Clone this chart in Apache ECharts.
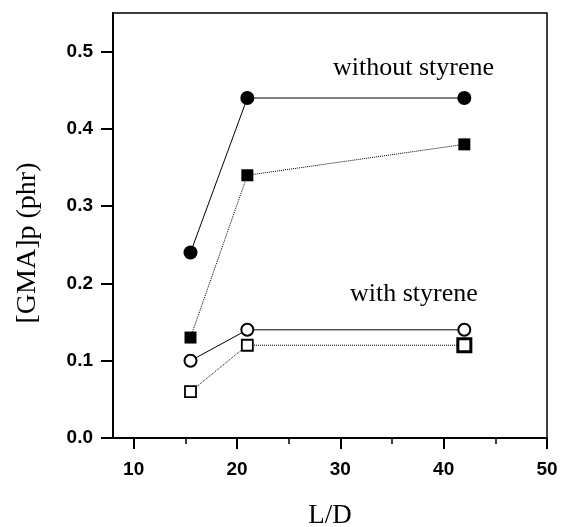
<!DOCTYPE html>
<html>
<head>
<meta charset="utf-8">
<script src="https://cdn.jsdelivr.net/npm/echarts@6/dist/echarts.min.js"></script>
<style>
  html, body { margin: 0; padding: 0; background: #fff; }
  #chart { width: 564px; height: 527px; }
</style>
</head>
<body>
<div id="chart"></div>
<script>
// L/D values
const ld = [15.5, 21, 42]
// [GMA]p (phr)
const withoutFilledCircle = [0.24, 0.44, 0.44]
const withoutFilledSquare = [0.13, 0.34, 0.38]
const withOpenCircle = [0.10, 0.14, 0.14]
const withOpenSquare = [0.06, 0.12, 0.12]

const xTicks = [10, 20, 30, 40, 50]
const xMinorTicks = [15, 25, 35, 45]
const yTicks = [0, 0.1, 0.2, 0.3, 0.4, 0.5]

const serif = '"Liberation Serif", "DejaVu Serif", serif'
const sans = '"Liberation Sans", Arial, sans-serif'

function pairs(ys) {
  return ys.map(function(y, i) { return [ld[i], y] })
}

const chart = echarts.init(document.getElementById('chart'))

chart.setOption({
  animation: false,
  grid: {
    left: 113,
    right: 17,
    top: 13,
    bottom: 89,
    outerBoundsMode: 'none',
    containLabel: false,
    show: true,
    borderColor: '#000',
    borderWidth: 1.5
  },
  xAxis: [{
    type: 'value',
    min: 8,
    max: 50,
    name: 'L/D',
    nameLocation: 'middle',
    nameGap: 64,
    nameTextStyle: { fontFamily: serif, fontSize: 27, color: '#000' },
    axisLine: { onZero: false, lineStyle: { color: '#000', width: 2 } },
    axisTick: { customValues: xTicks, length: 11, lineStyle: { color: '#000', width: 2 } },
    axisLabel: {
      customValues: xTicks,
      margin: 22,
      fontFamily: sans,
      fontSize: 19,
      fontWeight: 'bold',
      color: '#000'
    },
    splitLine: { show: false }
  }, {
    type: 'value',
    min: 8,
    max: 50,
    position: 'bottom',
    axisLine: { show: false },
    axisTick: { customValues: xMinorTicks, length: 6, lineStyle: { color: '#000', width: 1.5 } },
    axisLabel: { show: false },
    splitLine: { show: false }
  }],
  yAxis: {
    type: 'value',
    min: 0,
    max: 0.55,
    axisLine: { onZero: false, lineStyle: { color: '#000', width: 2 } },
    axisTick: { customValues: yTicks, length: 12, lineStyle: { color: '#000', width: 2 } },
    axisLabel: {
      customValues: yTicks,
      margin: 20,
      fontFamily: sans,
      fontSize: 19,
      fontWeight: 'bold',
      color: '#000',
      formatter: function(v) { return v.toFixed(1) }
    },
    splitLine: { show: false }
  },
  graphic: [{
    type: 'text',
    left: 333,
    top: 55,
    style: { text: 'without styrene', font: '26px ' + serif, fill: '#000' }
  }, {
    type: 'text',
    left: 350,
    top: 281,
    style: { text: 'with styrene', font: '26px ' + serif, fill: '#000' }
  }, {
    type: 'text',
    x: 28,
    y: 243,
    rotation: Math.PI / 2,
    style: {
      text: '[GMA]p (phr)',
      font: '28px ' + serif,
      fill: '#000',
      align: 'center',
      verticalAlign: 'middle'
    }
  }],
  series: [{
    type: 'line',
    data: pairs(withoutFilledCircle),
    symbol: 'circle',
    symbolSize: 14,
    itemStyle: { color: '#000' },
    lineStyle: { color: '#000', width: 1, type: 'solid' }
  }, {
    type: 'line',
    data: pairs(withoutFilledSquare),
    symbol: 'rect',
    symbolSize: 12,
    itemStyle: { color: '#000' },
    lineStyle: { color: '#000', width: 1, type: 'dotted' }
  }, {
    type: 'line',
    data: pairs(withOpenCircle),
    symbol: 'circle',
    symbolSize: 12,
    itemStyle: { color: '#fff', borderColor: '#000', borderWidth: 2 },
    lineStyle: { color: '#000', width: 1, type: 'solid' }
  }, {
    type: 'line',
    data: pairs(withOpenSquare).map(function(p, i) {
      // last open square is drawn heavier in the original
      return i === 2
        ? { value: p, symbolSize: 13, itemStyle: { borderWidth: 3 } }
        : p
    }),
    symbol: 'rect',
    symbolSize: 11,
    itemStyle: { color: '#fff', borderColor: '#000', borderWidth: 1.8 },
    lineStyle: { color: '#000', width: 1, type: 'dotted' }
  }]
})
</script>
</body>
</html>
